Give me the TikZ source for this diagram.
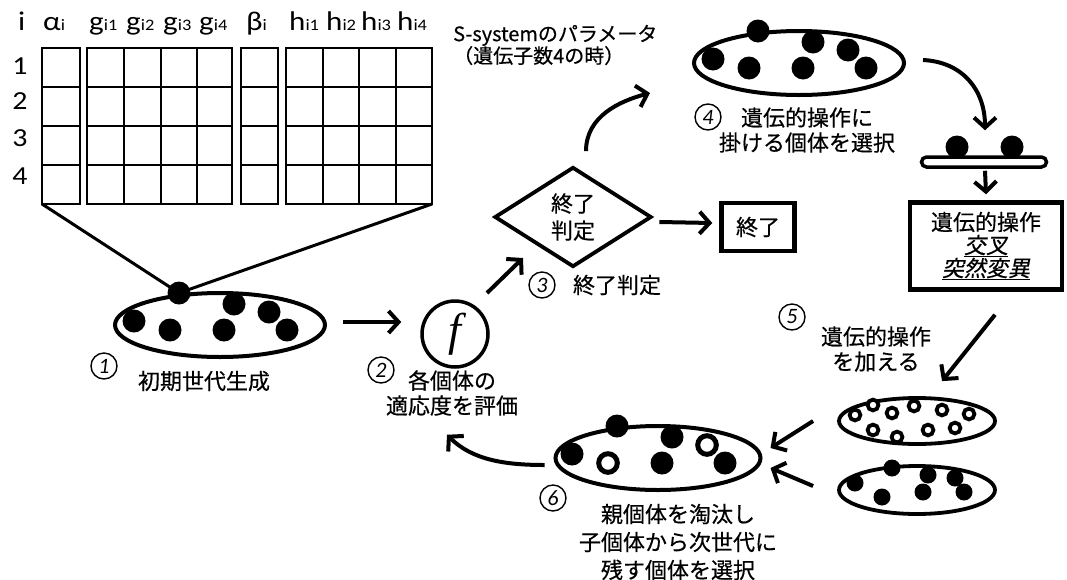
\documentclass[tikz,border=0pt]{standalone}
\usepackage{fontspec}
\setmainfont{Carlito}[FakeStretch=1.15]
\newfontfamily\jp{Noto Sans CJK JP}[FakeBold=0.5]
\newfontfamily\jpit{Noto Sans CJK JP}[FakeSlant=0.2,FakeBold=0.5]
\newfontfamily\numfont{Carlito}
\newfontfamily\ffont{Liberation Serif}
\usetikzlibrary{arrows.meta,shapes.geometric,calc}
\newcommand\lo[1]{{\fontsize{16}{16}\selectfont #1}}
\newcommand\fdotA[1]{\fill #1 circle[radius=11.5pt];}
\newcommand\ringA[1]{\draw[line width=5pt, fill=white] #1 circle[radius=9.3pt];}
\newcommand\bigpop[3]{%
\begin{scope}[shift={(#1.center)}]
\fdotA{(-86,-4)}
#2{(-50,5)}
\fdotA{(-41,-32)}
\fdotA{(4,5)}
\fdotA{(14,-21)}
#3{(49,-13)}
\fdotA{(67,5)}
\end{scope}}
\begin{document}
\begin{tikzpicture}[x=1pt,y=-1pt,
 jt/.style={font=\jp\fontsize{22}{25}\selectfont, align=center, inner sep=0},
 hdr/.style={font=\fontsize{27}{27}\selectfont, inner sep=0, anchor=base west},
 rowl/.style={font=\fontsize{26}{26}\selectfont, inner sep=0},
 gl/.style={line width=2.8pt},
 pop/.style={ellipse, draw, line width=4pt, minimum width=210pt, minimum height=64pt, inner sep=0},
 spop/.style={ellipse, draw, line width=3.8pt, minimum width=156pt, minimum height=46pt, inner sep=0},
 arr/.style={line width=4pt, -{Straight Barb[length=10pt,width=22pt]}},
 num/.style={circle, draw, line width=1.4pt, minimum size=26pt, inner sep=0, font=\numfont\fontsize{22}{22}\selectfont\itshape},
 bx/.style={draw, line width=4.5pt, jt},
]
\useasboundingbox (0,0) rectangle (1067,579);

% ---- parameter table ----
\foreach \a/\b in {42/80,87/232,241/278,286/432} {
  \draw[gl] (\a,48) rectangle (\b,204);
  \foreach \y in {87,126,165} \draw[gl] (\a,\y) -- (\b,\y);
}
\foreach \x in {124,161,197,323,359,396} \draw[gl] (\x,48) -- (\x,204);
\node[hdr] (hi) at (18,30) {i};
\node[hdr] (ha) at (43,30) {α\lo{i}};
\node[hdr] (hg1) at (89,30) {g\lo{i1}};
\node[hdr] (hg2) at (126,30) {g\lo{i2}};
\node[hdr] (hg3) at (163,30) {g\lo{i3}};
\node[hdr] (hg4) at (199,30) {g\lo{i4}};
\node[hdr] (hb) at (246,30) {β\lo{i}};
\node[hdr] (hh1) at (289,30) {h\lo{i1}};
\node[hdr] (hh2) at (326,30) {h\lo{i2}};
\node[hdr] (hh3) at (361,30) {h\lo{i3}};
\node[hdr] (hh4) at (397,30) {h\lo{i4}};
\node[rowl] (r1) at (20,66) {1};
\node[rowl] (r2) at (20,101) {2};
\node[rowl] (r3) at (20,138) {3};
\node[rowl] (r4) at (20,176) {4};

% ---- populations ----
\node[pop] (e1) at (220,325) {};
\node[pop] (e4) at (799,63) {};
\node[pop, minimum width=205pt] (e6) at (658,458) {};
\node[spop] (e5a) at (917,421) {};
\node[spop, minimum height=48pt] (e5b) at (917,490) {};

\coordinate (gbl) at (42,204);
\coordinate (gbr) at (432,204);
\coordinate (e1top) at ($(e1.center)+(-41,-32)$);
\draw[line width=3pt] (gbl) -- (e1top) -- (gbr);

\bigpop{e1}{\fdotA}{\fdotA}
\bigpop{e4}{\fdotA}{\fdotA}
\bigpop{e6}{\ringA}{\ringA}

\begin{scope}[shift={(e5a.center)}]
\foreach \p in {(-62,-6),(-44,-16),(-25,-8),(-44,9),(-20,16),(-3,-15),(11,9),(25,-11),(38,7),(52,-7)}
  \draw[line width=3.8pt, fill=white] \p circle[radius=5.4pt];
\end{scope}
\begin{scope}[shift={(e5b.center)}]
\foreach \p in {(-62,-7),(-25,-22),(-35,7),(6,2),(11,-15),(38,-12),(47,2)}
  \fill \p circle[radius=8.5pt];
\end{scope}

% ---- fitness, judgement, end ----
\node[circle, draw, line width=3.5pt, minimum size=66pt, inner sep=0, font=\ffont\fontsize{46}{46}\selectfont\itshape] (f) at (455,334) {f};
\node[diamond, draw, line width=3.8pt, minimum width=157pt, minimum height=100pt, inner sep=0, aspect=1.57, jt, font=\jp\fontsize{22}{27}\selectfont] (d) at (573,217) {終了\\判定};
\node[bx, minimum width=73pt, minimum height=48pt] (end) at (758,227) {終了};

% ---- crossover bar and operator box ----
\fdotA{(957,147)}
\fdotA{(1012,147)}
\node[draw, fill=white, line width=3.5pt, rounded corners=5pt, minimum width=125pt, minimum height=10pt, inner sep=0] (bar) at (984,162) {};
\node[bx, minimum width=152pt, minimum height=87pt, font=\jp\fontsize{22}{23}\selectfont] (op) at (986,246) {遺伝的操作\\{\jpit\underline{交叉}}\\{\jpit\underline{突然変異}}};

% ---- labels ----
\node[num] (n1) at (104,366) {1};
\node[jt] (t1) at (204,381) {初期世代生成};
\node[num] (n2) at (381,370) {2};
\node[jt] (t2) at (452,393) {各個体の\\適応度を評価};
\node[num] (n3) at (542,285) {3};
\node[jt] (t3) at (617,285) {終了判定};
\node[num] (n4) at (708,117) {4};
\node[jt] (t4) at (807,130) {遺伝的操作に\\掛ける個体を選択};
\node[num] (n5) at (792,317) {5};
\node[jt] (t5) at (876,349) {遺伝的操作\\を加える};
\node[num] (n6) at (553,498) {6};
\node[jt, font=\jp\fontsize{22}{28}\selectfont] (t6) at (678,542) {親個体を淘汰し\\子個体から次世代に\\残す個体を選択};
\node[jt, anchor=west, align=left, font=\jp\fontsize{20}{22}\selectfont] (ts) at (453,45) {S-systemのパラメータ\\（遺伝子数4の時）};

% ---- connectors ----
\draw[arr] ($(e1.east)+(16,-3)$) -- ($(f.west)+(-19,-12)$);
\draw[arr] ($(f.center)+(32,-41)$) -- ($(d.center)+(-50,41)$);
\draw[arr] ($(d.east)+(6,5)$) -- ($(end.west)+(-7,-4)$);
\draw[arr] ($(d.north)+(13,-14)$) .. controls +(0,-35) and +(-30,8) .. ($(e4.west)+(-42,30)$);
\draw[arr] ($(e4.east)+(17,-3)$) .. controls +(40,2) and +(0,-40) .. ($(bar.north)+(1,-25)$);
\draw[arr] ($(bar.south)+(1,2)$) -- ($(op.north)+(0,-6)$);
\draw[arr] ($(op.south)+(9,23)$) -- ($(e5a.north)+(25,-15)$);
\draw[arr] ($(e5a.west)+(-24,0)$) -- ($(e6.east)+(8,-10)$);
\draw[arr] ($(e5b.west)+(-24,-4)$) -- ($(e6.east)+(8,10)$);
\draw[arr] ($(e6.west)+(-9,7)$) .. controls +(-40,0) and +(25,25) .. ($(f.south)+(-8,66)$);
\end{tikzpicture}
\end{document}
